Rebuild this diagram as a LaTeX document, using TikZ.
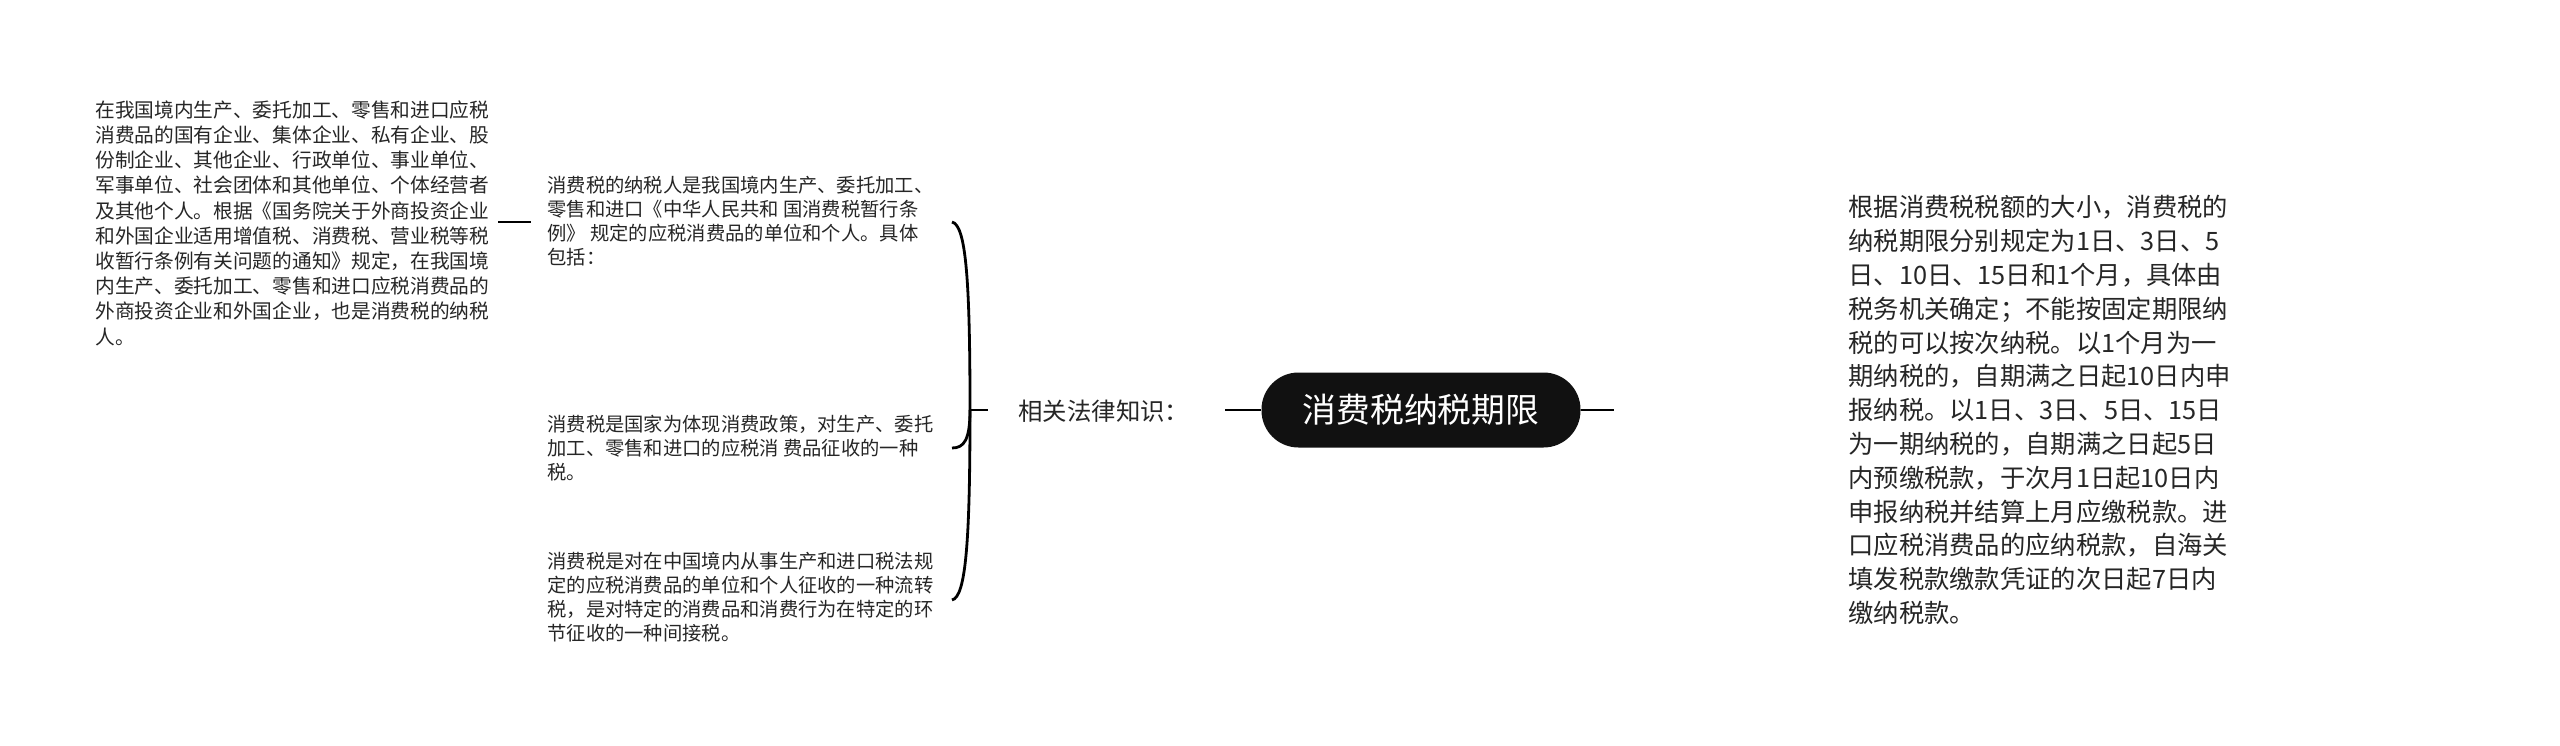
\documentclass[tikz,border=0pt]{standalone}
\usepackage{fontspec}
\setmainfont{Noto Sans CJK SC}
\usetikzlibrary{calc}
\definecolor{txtcol}{HTML}{262626}
\definecolor{rootfill}{HTML}{111111}
\begin{document}
\begin{tikzpicture}[x=0.5pt,y=-0.5pt,
  txt/.style={inner sep=0pt, align=left, text=txtcol, anchor=west},
  lefttxt/.style={txt, font=\fontsize{9.85pt}{12.6pt}\selectfont},
  midtxt/.style={txt, font=\fontsize{9.65pt}{12pt}\selectfont},
  righttxt/.style={txt, font=\fontsize{12.65pt}{16.9pt}\selectfont},
  labeltxt/.style={txt, font=\fontsize{12.2pt}{14pt}\selectfont},
  rootbox/.style={fill=rootfill, text=white, rounded corners=18.5pt, minimum width=159.5pt, minimum height=37.5pt, inner sep=0pt, font=\fontsize{16.9pt}{20pt}\selectfont},
  conn/.style={line width=1.4pt, draw=black}
]
\useasboundingbox (0,0) rectangle (2560,745);
\fill[white] (0,0) rectangle (2560,745);

\node[rootbox] (root) at (1421,410) {消费税纳税期限};
\node[labeltxt] (lab) at (1018,411) {相关法律知识：};

\node[lefttxt] (lt) at (95,223) {在我国境内生产、委托加工、零售和进口应税\\消费品的国有企业、集体企业、私有企业、股\\份制企业、其他企业、行政单位、事业单位、\\军事单位、社会团体和其他单位、个体经营者\\及其他个人。根据《国务院关于外商投资企业\\和外国企业适用增值税、消费税、营业税等税\\收暂行条例有关问题的通知》规定，在我国境\\内生产、委托加工、零售和进口应税消费品的\\外商投资企业和外国企业，也是消费税的纳税\\人。};

\node[midtxt] (m1) at (547,221) {消费税的纳税人是我国境内生产、委托加工、\\零售和进口《中华人民共和 国消费税暂行条\\例》 规定的应税消费品的单位和个人。具体\\包括：};
\node[midtxt] (m2) at (547,448) {消费税是国家为体现消费政策，对生产、委托\\加工、零售和进口的应税消 费品征收的一种\\税。};
\node[midtxt] (m3) at (547,597) {消费税是对在中国境内从事生产和进口税法规\\定的应税消费品的单位和个人征收的一种流转\\税，是对特定的消费品和消费行为在特定的环\\节征收的一种间接税。};

\node[righttxt] (rt) at (1848,410) {根据消费税税额的大小，消费税的\\纳税期限分别规定为1日、3日、5\\日、10日、15日和1个月，具体由\\税务机关确定；不能按固定期限纳\\税的可以按次纳税。以1个月为一\\期纳税的，自期满之日起10日内申\\报纳税。以1日、3日、5日、15日\\为一期纳税的，自期满之日起5日\\内预缴税款，于次月1日起10日内\\申报纳税并结算上月应缴税款。进\\口应税消费品的应纳税款，自海关\\填发税款缴款凭证的次日起7日内\\缴纳税款。};

% junction and bracket ends
\coordinate (J) at (970,410);
\coordinate (b1) at (952,222);
\coordinate (b2) at (952,448);
\coordinate (b3) at (952,600);
\coordinate (ls) at (498,222);
\coordinate (le) at (531,222);
\coordinate (rs) at (1614,410);
\coordinate (lw) at (988,410);
\coordinate (le2) at (1225,410);

% connectors
\draw[conn] (root.west) -- (le2);
\draw[conn] (root.east) -- (rs);
\draw[conn] (J) -- (lw);
\draw[conn] (J) .. controls (970,280) and (966,225) .. (b1);
\draw[conn] (J) .. controls (970,440) and (964,448) .. (b2);
\draw[conn] (J) .. controls (970,540) and (966,597) .. (b3);
\draw[conn] (ls) -- (le);
\end{tikzpicture}
\end{document}
